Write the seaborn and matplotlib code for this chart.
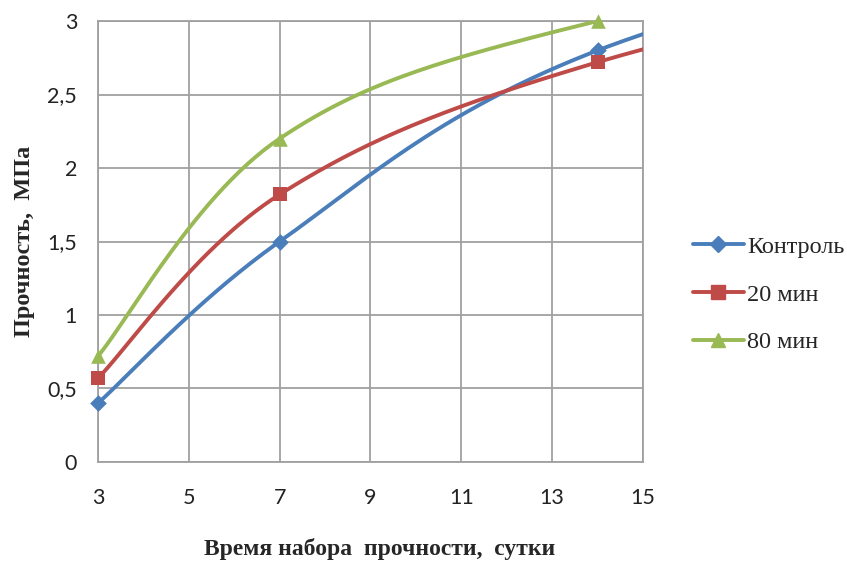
import matplotlib
matplotlib.use("Agg")
import matplotlib.pyplot as plt
from matplotlib.lines import Line2D
from matplotlib.ticker import FuncFormatter, MultipleLocator
import seaborn as sns
import numpy as np
import pandas as pd

# days of curing; the 28-day point lies outside the shown range (x max = 15)
days = [3, 7, 14, 28]
control = [0.40, 1.50, 2.80, 4.00]
min20 = [0.57, 1.82, 2.72, 3.75]
min80 = [0.72, 2.20, 3.00, 3.80]

series_names = ["Контроль", "20 мин", "80 мин"]
x_ticks = [3, 5, 7, 9, 11, 13, 15]
colors = ["#4a7ebb", "#be4b48", "#98b954"]
markers = ["D", "s", "^"]
msizes = [8.5, 10.5, 10.5]


# smooth line like the spreadsheet one (cubic bezier through the points)
def smooth(xs, ys, n=60):
    pts = np.column_stack([xs, ys]).astype(float)
    out = []
    for i in range(len(pts) - 1):
        p0 = pts[max(i - 1, 0)]
        p1 = pts[i]
        p2 = pts[i + 1]
        p3 = pts[min(i + 2, len(pts) - 1)]
        c1 = p1 + (p2 - p0) / 6
        c2 = p2 - (p3 - p1) / 6
        t = np.linspace(0, 1, n)[:, None]
        seg = (1 - t) ** 3 * p1 + 3 * (1 - t) ** 2 * t * c1 + 3 * (1 - t) * t ** 2 * c2 + t ** 3 * p2
        out.append(seg if i == 0 else seg[1:])
    out = np.vstack(out)
    return out[:, 0], out[:, 1]


sns.set_style("white")
fig = plt.figure(figsize=(8.47, 5.61), dpi=100)
ax = fig.add_axes([0.1157, 0.1765, 0.6434, 0.786])

for name, vals, c, m, ms in zip(series_names, [control, min20, min80], colors, markers, msizes):
    sx, sy = smooth(days, vals)
    curve = pd.DataFrame({"x": sx, "y": sy})
    sns.lineplot(data=curve, x="x", y="y", ax=ax, color=c, lw=2.8, sort=False, estimator=None, zorder=3)
    pts = pd.DataFrame({"x": days, "y": vals})
    pts = pts[pts["x"] <= 15]
    sns.scatterplot(data=pts, x="x", y="y", ax=ax, color=c, marker=m, s=ms ** 2, edgecolor=c,
                    linewidth=0, zorder=4, clip_on=False)

ax.set_xlim(3, 15)
ax.set_ylim(0, 3)
ax.set_xticks(x_ticks)
ax.yaxis.set_major_locator(MultipleLocator(0.5))
ax.yaxis.set_major_formatter(FuncFormatter(lambda v, p: f"{v:g}".replace(".", ",")))
ax.grid(True, color="#a0a0a0", lw=1.3)
for s in ax.spines.values():
    s.set_color("#a0a0a0")
    s.set_linewidth(1.3)
ax.tick_params(length=0, labelsize=15.5, colors="#222222")
ax.tick_params(axis="x", pad=19)
ax.tick_params(axis="y", pad=15)
for lab in ax.get_xticklabels() + ax.get_yticklabels():
    lab.set_fontfamily("Lato")

ax.set_xlabel("Время набора  прочности,  сутки", fontfamily="Liberation Serif",
              fontweight="bold", fontsize=17)
ax.set_ylabel("Прочность,  МПа", fontfamily="Liberation Serif", fontweight="bold", fontsize=17.5)
ax.xaxis.set_label_coords(0.517, -0.172)
ax.yaxis.set_label_coords(-0.115, 0.5)

handles = [Line2D([], [], color=c, lw=2.8, marker=m, markersize=ms * 0.9)
           for c, m, ms in zip(colors, markers, msizes)]
fig.legend(handles, series_names, loc="center left", bbox_to_anchor=(0.818, 0.475),
           frameon=False, prop={"family": "Liberation Serif", "size": 17.5},
           handlelength=2.1, handletextpad=0.12, labelspacing=1.06,
           borderpad=0, borderaxespad=0)

fig.savefig("out.png", dpi=100)
